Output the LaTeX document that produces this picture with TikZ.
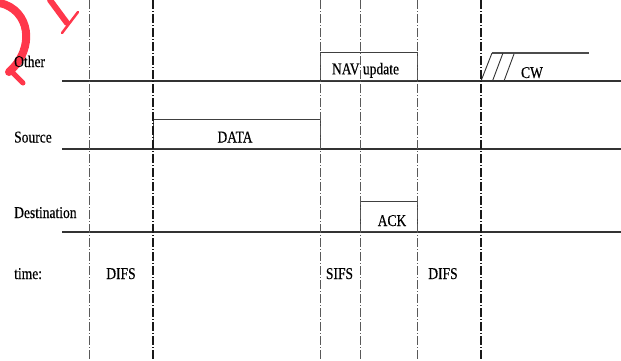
\documentclass[tikz,border=0pt]{standalone}
\usepackage{fontspec}
\setmainfont{Liberation Serif}[FakeStretch=0.82,FakeBold=0.4]
\usetikzlibrary{positioning}
\definecolor{stamp}{RGB}{255,55,75}

\begin{document}
\begin{tikzpicture}[x=1pt,y=-1pt]

  \tikzset{lbl/.style={font=\fontsize{16.5}{18}\selectfont, inner sep=0pt, anchor=base}, }
  \tikzset{row lbl/.style={lbl, anchor=base west}, }
  \tikzset{tick/.style={line width=0.8pt, black!65, dash pattern=on 9pt off 2pt on 1pt off 2pt}, }
  \tikzset{strong tick/.style={tick, line width=1.2pt, black!90}, }
  \tikzset{axis/.style={line width=1.1pt, black!80}, }
  \tikzset{slot/.style={draw=black!75, line width=0.9pt, inner sep=0pt, anchor=south west}, }
  \tikzset{stamp line/.style={stamp, line cap=round, line join=round}, }

  \useasboundingbox (0,0) rectangle (621,360);

  % red stamp in the corner
  \draw[stamp line, line width=8pt] (0,3) .. controls (30,10) and (36,48) .. (9,72);
  \draw[stamp line, line width=5pt] (12,72) -- (23,83);
  \draw[stamp line, line width=6pt] (50,0) -- (67,23);
  \draw[stamp line, line width=2.5pt] (78,12) -- (62,33);

  % slot boundaries
  \foreach \n/\x in {difs/89,data/153,sifs/320,ack/360,end/417,cw/481}
    \coordinate (\n) at (\x,0);

  % rows
  \coordinate (other) at (62,81);
  \coordinate (source) at (62,149);
  \coordinate (dest) at (62,232);
  \coordinate (right) at (621,0);
  \foreach \r in {other,source,dest}
    \draw[axis] (\r) -- (right |- \r);

  % frames
  \node[slot, minimum width=97, minimum height=28] (nav box) at (sifs |- other) {};
  \node[slot, minimum width=167, minimum height=29] (data box) at (data |- source) {};
  \node[slot, minimum width=57, minimum height=30] (ack box) at (ack |- dest) {};

  % contention window
  \coordinate (cw top) at (492,53);
  \coordinate (cw end) at (589,53);
  \draw[axis, line width=1.3pt, black!70] (cw top) -- (cw end);
  \draw[axis, line width=0.9pt] (cw |- other) -- (cw top);
  \draw[axis, line width=0.9pt] (492.5,81) -- (503,53);
  \draw[axis, line width=0.9pt] (504,81) -- (514,54);

  \foreach \n in {difs,sifs,ack,end}
    \draw[tick] (\n) -- ++(0,360);
  \foreach \n in {data,cw}
    \draw[strong tick] (\n) -- ++(0,360);

  % texts
  \node[row lbl] (other lbl) at (14,67) {Other};
  \node[row lbl] (source lbl) at (14,142.5) {Source};
  \node[row lbl] (dest lbl) at (14,218) {Destination};
  \node[row lbl] (time lbl) at (14,279) {time:};

  \node[lbl] (nav lbl) at (365.5,74.3) {NAV update};
  \node[lbl] (data lbl) at (235,142.5) {DATA};
  \node[lbl] (ack lbl) at (392,226) {ACK};
  \node[lbl] (cw lbl) at (532,78) {CW};

  \node[lbl] (difs lbl) at (121,279) {DIFS};
  \node[lbl] (sifs lbl) at (339.5,279) {SIFS};
  \node[lbl] (difs2 lbl) at (443,279) {DIFS};

\end{tikzpicture}
\end{document}
